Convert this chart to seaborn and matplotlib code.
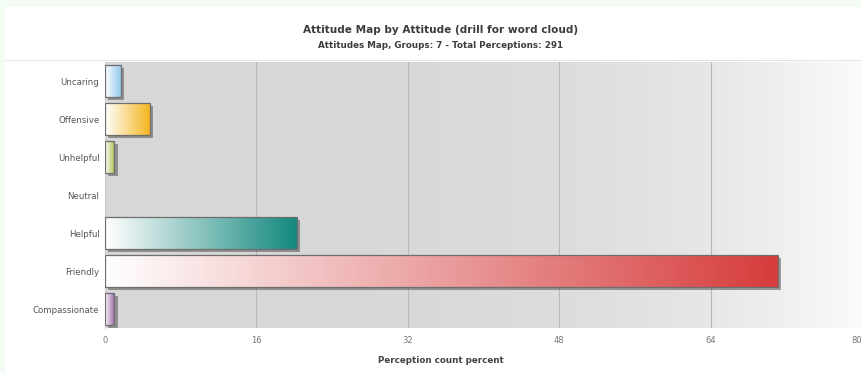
import numpy as np
import pandas as pd
import seaborn as sns
import matplotlib
matplotlib.use("Agg")
import matplotlib.pyplot as plt
import matplotlib.patheffects as pe
from matplotlib.colors import to_rgb, LinearSegmentedColormap
from matplotlib.patches import Rectangle

# Attitude categories and their share of all perceptions (percent of 291)
attitudes = ["Uncaring", "Offensive", "Unhelpful", "Neutral", "Helpful", "Friendly", "Compassionate"]
percent = [1.7, 4.8, 1.0, 0.0, 20.3, 71.1, 1.0]
bar_colors = ["#8cc6ea", "#f4b41a", "#a6c04a", "#9a9a9a", "#12877d", "#d63c3c", "#9460a4"]
x_ticks = [0, 16, 32, 48, 64, 80]

title = "Attitude Map by Attitude (drill for word cloud)"
subtitle = "Attitudes Map, Groups: 7 - Total Perceptions: 291"
x_label = "Perception count percent"

df = pd.DataFrame({"attitude": attitudes, "percent": percent})

sns.set_theme(style="white")
plt.rcParams["font.family"] = ["DejaVu Sans"]

fig = plt.figure(figsize=(8.61, 3.73), dpi=100)
fig.patch.set_facecolor("white")

# light green page frame along the top and left edges
fig.add_artist(Rectangle((0, 1 - 7 / 373), 1, 7 / 373, transform=fig.transFigure,
                         facecolor="#f2fcf2", edgecolor="none", zorder=0))
fig.add_artist(Rectangle((0, 0), 5 / 861, 1, transform=fig.transFigure,
                         facecolor="#f2fcf2", edgecolor="none", zorder=0))
# thin separator under the header
fig.add_artist(plt.Line2D([5 / 861, 1], [1 - 60 / 373] * 2, transform=fig.transFigure,
                          color="#e4e4e4", lw=0.8))

ax = fig.add_axes([105 / 861, 1 - 328 / 373, 757 / 861, 266 / 373])

sns.barplot(data=df, y="attitude", x="percent", hue="attitude", palette=bar_colors,
            order=attitudes, orient="h", width=0.85, legend=False, ax=ax, zorder=2)

ax.set_xlim(0, 80)
ax.set_ylim(len(attitudes) - 0.5, -0.5)

# plot background: horizontal gray-to-white gradient
t = np.linspace(0, 1, 256) ** 3.5
start = np.array(to_rgb("#d7d7d7"))
end = np.array(to_rgb("#fbfbfb"))
bg_rgb = (start[None, :] * (1 - t[:, None]) + end[None, :] * t[:, None])[None, :, :]
ax.imshow(bg_rgb, extent=(0, 80, len(attitudes) - 0.5, -0.5), aspect="auto", zorder=0,
          interpolation="bilinear")

for xv in x_ticks[1:-1]:
    ax.axvline(xv, color="#b8b8b8", lw=0.8, zorder=1)

# gradient fill for each bar, with outline and drop shadow
grad = np.linspace(0, 1, 256)[None, :]
for patch, col in zip(ax.patches, bar_colors):
    w = patch.get_width()
    if w <= 0:
        patch.set_visible(False)
        continue
    x0, y0 = patch.get_x(), patch.get_y()
    h = patch.get_height()
    patch.set_facecolor("white")
    patch.set_edgecolor("none")
    patch.set_path_effects([pe.SimplePatchShadow(offset=(2.2, -2.2), shadow_rgbFace="#555555",
                                                 alpha=0.55), pe.Normal()])
    cmap = LinearSegmentedColormap.from_list("g", ["#ffffff", col])
    img = ax.imshow(grad, extent=(x0, x0 + w, y0 + h, y0), aspect="auto", cmap=cmap,
                    vmin=0, vmax=1, zorder=3, interpolation="bilinear")
    img.set_clip_path(patch)
    ax.add_patch(Rectangle((x0, y0), w, h, facecolor="none", edgecolor="#6e6e6e",
                           lw=0.9, zorder=4))

ax.set_xticks(x_ticks)
ax.set_xticklabels([str(v) for v in x_ticks])
ax.tick_params(axis="x", labelsize=6, colors="#777777", length=0, pad=6)
ax.tick_params(axis="y", labelsize=6.2, colors="#555555", length=0, pad=4)
ax.get_xticklabels()[-1].set_horizontalalignment("right")
ax.set_xlabel(x_label, fontsize=6.3, fontweight="bold", color="#444444", labelpad=8)
ax.set_ylabel("")
ax.xaxis.label.set_x((441 - 105) / 757)
for s in ["top", "right", "bottom"]:
    ax.spines[s].set_visible(False)
ax.spines["left"].set_color("#cfcfcf")
ax.spines["left"].set_linewidth(0.8)
ax.grid(False)

fig.text(441 / 861, 1 - 30 / 373, title, ha="center", va="center", fontsize=7.6,
         fontweight="bold", color="#3c3c3c")
fig.text(441 / 861, 1 - 45 / 373, subtitle, ha="center", va="center", fontsize=6.3,
         fontweight="bold", color="#3c3c3c")

fig.savefig("out.png", dpi=100, facecolor="white")
